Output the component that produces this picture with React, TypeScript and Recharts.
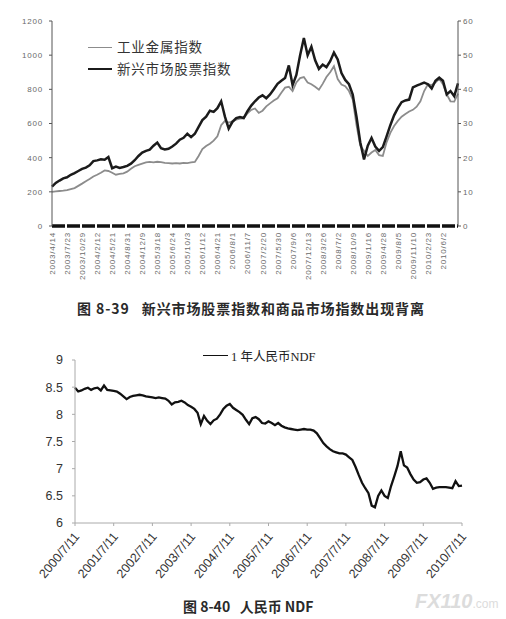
import React from "react";
import {
  LineChart,
  Line,
  XAxis,
  YAxis,
  Legend,
} from "recharts";

// ─── Figure 8-39 data ────────────────────────────────────────────────────────
// one row every quarter of a tick interval (27 tick dates, 4 rows per interval)

const TOP_TICK_LABELS = [
  "2003/4/14", "2003/7/23", "2003/10/29", "2004/2/12", "2004/5/21",
  "2004/8/31", "2004/12/9", "2005/3/18", "2005/6/24", "2005/10/3",
  "2006/1/12", "2006/4/21", "2006/8/1", "2006/11/7", "2007/2/20",
  "2007/5/30", "2007/9/6", "2007/12/13", "2008/3/26", "2008/7/2",
  "2008/10/9", "2009/1/16", "2009/4/28", "2009/8/5", "2009/11/10",
  "2010/2/23", "2010/6/2",
];

// 工业金属指数 (left axis)
const METAL_INDEX = [
  200, 203, 205, 207, 210, 216, 222, 235, 248, 262,
  275, 290, 300, 312, 325, 322, 312, 300, 305, 308,
  318, 335, 350, 358, 365, 372, 375, 372, 376, 374,
  370, 368, 366, 368, 366, 370, 368, 372, 375, 410,
  450, 468, 482, 500, 525, 590, 615, 605, 612, 622,
  628, 630, 660, 680, 688, 662, 675, 700, 718, 735,
  748, 780, 810, 815, 790, 840, 866, 872, 840, 830,
  815, 798, 832, 872, 900, 935, 860, 828, 818, 790,
  740, 590, 470, 440, 410, 430, 445, 415, 410, 490,
  545, 585, 615, 640, 655, 670, 680, 698, 730, 790,
  830, 825, 840, 862, 830, 770, 730, 728, 775,
];

// 新兴市场股票指数 (right axis)
const EM_INDEX = [
  11.5, 12.6, 13.3, 13.95, 14.25, 15.0, 15.5, 16.1, 16.7, 17.1,
  17.75, 19.0, 19.2, 19.5, 19.4, 20.2, 16.9, 17.4, 17.0, 17.25,
  17.6, 18.25, 19.25, 20.5, 21.5, 22.0, 22.35, 23.5, 24.4, 22.75,
  22.4, 22.6, 23.25, 24.1, 25.25, 25.8, 27.0, 26.0, 27.0, 29.0,
  31.0, 32.0, 33.75, 33.4, 34.5, 36.5, 32.0, 28.5, 30.5, 31.6,
  31.9, 31.6, 33.6, 35.25, 36.5, 37.6, 38.25, 37.4, 38.5, 40.0,
  41.6, 42.5, 43.3, 47.0, 41.25, 44.2, 50.0, 55.0, 50.0, 52.5,
  48.5, 46.0, 47.25, 46.5, 48.25, 50.75, 48.75, 44.75, 42.75, 41.5,
  38.5, 32.0, 24.5, 19.5, 23.5, 25.75, 23.25, 22.0, 23.1, 26.25,
  29.5, 32.4, 34.5, 36.25, 36.75, 37.0, 40.6, 41.1, 41.5, 42.0,
  41.5, 40.25, 42.5, 43.4, 42.5, 38.5, 39.5, 38.0, 41.75,
];

const LEFT_TICKS = [0, 200, 400, 600, 800, 1000, 1200];
const RIGHT_TICKS = [0, 10, 20, 30, 40, 50, 60];
const TOP_SERIES = [
  { key: "metal", name: "工业金属指数", color: "#8c8c8c", width: 1.8 },
  { key: "em", name: "新兴市场股票指数", color: "#1b1b1b", width: 2.5 },
];

// ─── Figure 8-40 data ────────────────────────────────────────────────────────
// monthly, 2000/7 .. 2010/7

const NDF_TICK_LABELS = [
  "2000/7/11", "2001/7/11", "2002/7/11", "2003/7/11", "2004/7/11",
  "2005/7/11", "2006/7/11", "2007/7/11", "2008/7/11", "2009/7/11",
  "2010/7/11",
];

const NDF_1Y = [
  8.49, 8.42, 8.44, 8.47, 8.49, 8.45, 8.48, 8.49, 8.44, 8.53,
  8.45, 8.44, 8.43, 8.42, 8.38, 8.33, 8.28, 8.32, 8.34, 8.35,
  8.36, 8.35, 8.33, 8.32, 8.31, 8.30, 8.31, 8.30, 8.29, 8.25,
  8.18, 8.22, 8.23, 8.25, 8.22, 8.17, 8.14, 8.10, 8.03, 7.82,
  7.97, 7.88, 7.82, 7.89, 7.92, 8.00, 8.10, 8.16, 8.19, 8.12,
  8.08, 8.04, 7.99, 7.90, 7.82, 7.93, 7.95, 7.91, 7.84, 7.83,
  7.87, 7.84, 7.80, 7.84, 7.79, 7.76, 7.74, 7.73, 7.72, 7.71,
  7.72, 7.73, 7.72, 7.72, 7.70, 7.65, 7.56, 7.47, 7.41, 7.36,
  7.32, 7.30, 7.28, 7.28, 7.26, 7.21, 7.16, 7.03, 6.88, 6.74,
  6.64, 6.55, 6.32, 6.29, 6.50, 6.60, 6.50, 6.46, 6.68, 6.86,
  7.05, 7.32, 7.06, 7.02, 6.90, 6.80, 6.74, 6.75, 6.80, 6.82,
  6.74, 6.63, 6.65, 6.66, 6.66, 6.66, 6.65, 6.64, 6.77, 6.68,
  6.69,
];

const NDF_Y_TICKS = [6, 6.5, 7, 7.5, 8, 8.5, 9];

const topData = METAL_INDEX.map((metal, i) => ({ t: i, metal, em: EM_INDEX[i] }));
const ndfData = NDF_1Y.map((v, i) => ({ m: i, ndf: v }));

const sans = "'Liberation Sans', Arial, sans-serif";
const cjk = "'Liberation Serif', 'Noto Sans CJK SC', serif";
const cjkBold = "'Noto Sans CJK SC', sans-serif";

// ─── Ticks / legends ─────────────────────────────────────────────────────────

function TopXTick({ x, y, payload }: { x?: number; y?: number; payload?: { value: number } }) {
  const label = TOP_TICK_LABELS[Math.round((payload?.value ?? 0) / 4)];
  const tx = (x ?? 0) + 3;
  return (
    <text
      x={tx}
      y={y}
      transform={`rotate(-90 ${tx} ${y})`}
      textAnchor="end"
      fontSize={8}
      letterSpacing={0.8}
      fontFamily={sans}
      fill="#6a6a6a"
    >
      {label}
    </text>
  );
}

function NdfXTick({ x, y, payload }: { x?: number; y?: number; payload?: { value: number } }) {
  const label = NDF_TICK_LABELS[Math.round((payload?.value ?? 0) / 12)];
  const tx = (x ?? 0) + 5;
  const ty = (y ?? 0) + 9;
  return (
    <text
      x={tx}
      y={ty}
      transform={`rotate(-50 ${tx} ${ty})`}
      textAnchor="end"
      fontSize={12.5}
      fontFamily={sans}
      fill="#333"
    >
      {label}
    </text>
  );
}

function TopLegend() {
  return (
    <div style={{ fontFamily: cjk, fontSize: 13.5, color: "#333", lineHeight: "21.5px", letterSpacing: 0.8 }}>
      {TOP_SERIES.map((s) => (
        <div key={s.key} style={{ display: "flex", alignItems: "center", whiteSpace: "nowrap" }}>
          <span
            style={{
              display: "inline-block",
              width: 24,
              height: 0,
              borderTop: `${s.width}px solid ${s.color}`,
              marginRight: 5,
            }}
          />
          {s.name}
        </div>
      ))}
    </div>
  );
}

function NdfLegend() {
  return (
    <div
      style={{
        display: "flex",
        alignItems: "center",
        fontFamily: cjk,
        fontSize: 12.5,
        color: "#222",
        whiteSpace: "nowrap",
      }}
    >
      <span style={{ display: "inline-block", width: 25, height: 0, borderTop: "1.6px solid #111", marginRight: 3 }} />
      1 年人民币NDF
    </div>
  );
}

// ─── Page ────────────────────────────────────────────────────────────────────

export default function App() {
  return (
    <div
      style={{
        position: "absolute",
        left: 0,
        top: 0,
        width: 506,
        height: 619,
        background: "#fff",
        overflow: "hidden",
      }}
    >
      {/* 图 8-39 */}
      <div style={{ position: "absolute", left: 0, top: 0 }}>
        <LineChart width={506} height={300} data={topData} margin={{ top: 21, right: 0, left: 0, bottom: 14 }}>
          <XAxis
            dataKey="t"
            type="number"
            domain={[0, 108]}
            ticks={TOP_TICK_LABELS.map((_, i) => i * 4)}
            interval={0}
            height={60}
            tick={<TopXTick />}
            tickSize={2}
            tickMargin={4}
            tickLine={false}
            axisLine={{ stroke: "#111", strokeWidth: 3.5, strokeDasharray: "13 2" }}
          />
          <YAxis
            yAxisId="left"
            domain={[0, 1200]}
            ticks={LEFT_TICKS}
            width={52}
            tickSize={3}
            tickMargin={6}
            axisLine={{ stroke: "#555" }}
            tickLine={{ stroke: "#555" }}
            tick={{ fontSize: 8, fontFamily: sans, fill: "#6a6a6a", letterSpacing: 0.8 }}
          />
          <YAxis
            yAxisId="right"
            orientation="right"
            domain={[0, 60]}
            ticks={RIGHT_TICKS}
            width={48}
            tickSize={3}
            tickMargin={2}
            axisLine={{ stroke: "#555" }}
            tickLine={{ stroke: "#555" }}
            tick={{ fontSize: 8, fontFamily: sans, fill: "#6a6a6a", letterSpacing: 0.8 }}
          />
          <Legend
            content={<TopLegend />}
            layout="horizontal"
            verticalAlign="middle"
            wrapperStyle={{ left: 88, top: 37, width: "auto" }}
          />
          <Line
            yAxisId="left"
            dataKey="metal"
            name={TOP_SERIES[0].name}
            stroke={TOP_SERIES[0].color}
            strokeWidth={TOP_SERIES[0].width}
            dot={false}
            type="linear"
            isAnimationActive={false}
          />
          <Line
            yAxisId="right"
            dataKey="em"
            name={TOP_SERIES[1].name}
            stroke={TOP_SERIES[1].color}
            strokeWidth={TOP_SERIES[1].width}
            dot={false}
            type="linear"
            isAnimationActive={false}
          />
        </LineChart>
      </div>
      <div
        style={{
          position: "absolute",
          left: 77,
          top: 299,
          fontFamily: cjkBold,
          fontSize: 14,
          fontWeight: 700,
          color: "#2a2a2a",
          letterSpacing: 0.9,
          whiteSpace: "pre",
          lineHeight: "18px",
        }}
      >
        {"图 8-39   新兴市场股票指数和商品市场指数出现背离"}
      </div>

      {/* 图 8-40 */}
      <div style={{ position: "absolute", left: 0, top: 340 }}>
        <LineChart width={506} height={260} data={ndfData} margin={{ top: 20, right: 44, left: 0, bottom: 17 }}>
          <XAxis
            dataKey="m"
            type="number"
            domain={[0, 120]}
            ticks={NDF_TICK_LABELS.map((_, i) => i * 12)}
            interval={0}
            height={60}
            tick={<NdfXTick />}
            tickSize={3}
            tickMargin={2}
            axisLine={{ stroke: "#aaa" }}
            tickLine={{ stroke: "#aaa" }}
          />
          <YAxis
            domain={[6, 9]}
            ticks={NDF_Y_TICKS}
            width={75}
            tickSize={3}
            tickMargin={9}
            axisLine={{ stroke: "#aaa" }}
            tickLine={{ stroke: "#aaa" }}
            tick={{ fontSize: 12.5, fontFamily: sans, fill: "#333" }}
          />
          <Legend
            content={<NdfLegend />}
            layout="horizontal"
            verticalAlign="middle"
            wrapperStyle={{ left: 203, top: 6, width: "auto" }}
          />
          <Line
            dataKey="ndf"
            name="1 年人民币NDF"
            stroke="#111"
            strokeWidth={2.3}
            dot={false}
            type="linear"
            isAnimationActive={false}
          />
        </LineChart>
      </div>
      <div
        style={{
          position: "absolute",
          left: 183,
          top: 597,
          fontFamily: cjkBold,
          fontSize: 14,
          fontWeight: 700,
          color: "#2a2a2a",
          whiteSpace: "pre",
          lineHeight: "18px",
        }}
      >
        {"图 8-40   人民币 NDF"}
      </div>
      <div
        style={{
          position: "absolute",
          left: 415,
          top: 590,
          fontFamily: sans,
          fontWeight: 700,
          color: "#dcdcdc",
          whiteSpace: "nowrap",
          lineHeight: "22px",
        }}
      >
        <span style={{ fontSize: 20, fontStyle: "italic" }}>FX110</span>
        <span style={{ fontSize: 12, fontWeight: 400 }}>.com</span>
      </div>
    </div>
  );
}
